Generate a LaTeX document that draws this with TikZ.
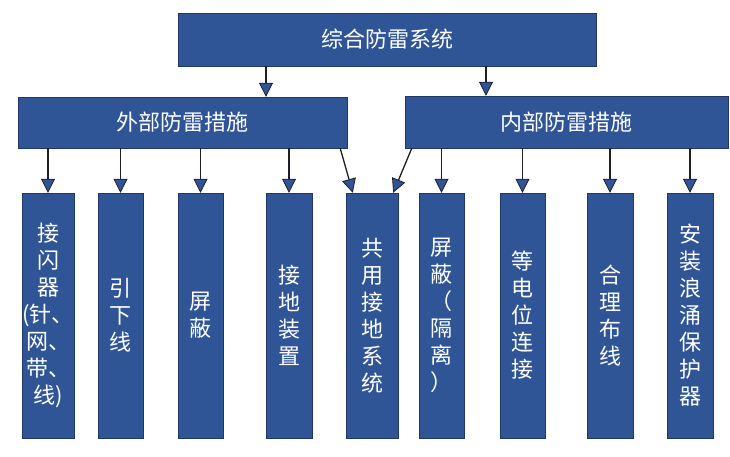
\documentclass[tikz,border=0pt]{standalone}
\usepackage{fontspec}
\setmainfont{Noto Sans CJK SC}
\usetikzlibrary{arrows.meta}
\definecolor{boxblue}{RGB}{47,85,151}
\definecolor{boxedge}{RGB}{32,56,100}
\definecolor{arrline}{RGB}{30,30,40}
\tikzset{
  bigbox/.style={draw=boxedge,fill=boxblue,text=white,inner sep=0pt,
    font=\fontsize{22}{27}\selectfont},
  tallbox/.style={bigbox,minimum height=245pt,align=center},
  arr/.style={draw=arrline,line width=1.3pt,
    -{Triangle[width=14pt,length=14pt,line width=0.8pt,fill=boxblue]}}
}
\begin{document}
\begin{tikzpicture}[x=1pt,y=-1pt]
  \useasboundingbox (0,0) rectangle (730,456);
  % Top level
  \node[bigbox,minimum width=418pt,minimum height=53pt] (top) at (387,39.5) {综合防雷系统};
  % Second level
  \node[bigbox,minimum width=329pt,minimum height=51pt] (outer) at (182.5,122.5) {外部防雷措施};
  \node[bigbox,minimum width=323pt,minimum height=52pt] (inner) at (566.5,122) {内部防雷措施};
  % Measures
  \node[tallbox,minimum width=44pt] (b1) at (48,315.5) {接\\闪\\器\\(针、\\网、\\带、\\线)};
  \node[tallbox,minimum width=45pt] (b2) at (120.5,315.5) {引\\下\\线};
  \node[tallbox,minimum width=45pt] (b3) at (200.5,315.5) {屏\\蔽};
  \node[tallbox,minimum width=46pt] (b4) at (289,315.5) {接\\地\\装\\置};
  \node[tallbox,minimum width=52pt] (b5) at (372,315.5) {共\\用\\接\\地\\系\\统};
  \node[tallbox,minimum width=45pt] (b6) at (441.5,315.5) {屏\\蔽\\（\\隔\\离\\）};
  \node[tallbox,minimum width=45pt] (b7) at (522.5,315.5) {等\\电\\位\\连\\接};
  \node[tallbox,minimum width=46pt] (b8) at (610,315.5) {合\\理\\布\\线};
  \node[tallbox,minimum width=46pt] (b9) at (690,315.5) {安\\装\\浪\\涌\\保\\护\\器};
  % Arrows
  \draw[arr] ([xshift=-121pt]top.south) -- ([xshift=83.5pt]outer.north);
  \draw[arr] ([xshift=99pt]top.south) -- ([xshift=-80.5pt]inner.north);
  \foreach \b in {b1,b2,b3,b4} \draw[arr] (outer.south -| \b.north) -- (\b.north);
  \foreach \b in {b6,b7,b8,b9} \draw[arr] (inner.south -| \b.north) -- (\b.north);
  \draw[arr] ([xshift=-7pt]outer.south east) -- ([xshift=7pt]b5.north west);
  \draw[arr] ([xshift=7pt]inner.south west) -- ([xshift=-5pt]b5.north east);
\end{tikzpicture}
\end{document}
